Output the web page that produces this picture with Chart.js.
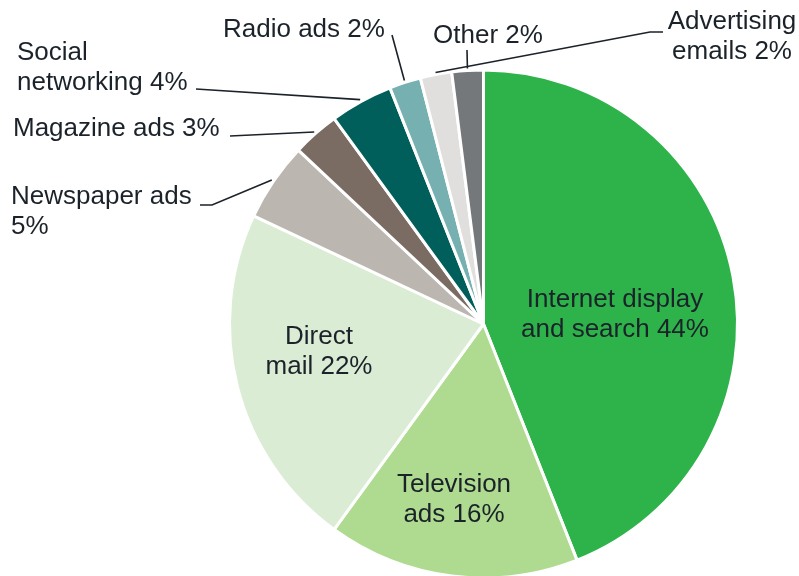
<!DOCTYPE html>
<html>
<head>
<meta charset="utf-8">
<script src="https://cdn.jsdelivr.net/npm/chart.js@4/dist/chart.umd.min.js"></script>
<style>
  html, body { margin: 0; padding: 0; background: #ffffff; overflow: hidden; }
  #wrap { width: 799px; height: 576px; overflow: hidden; }
</style>
</head>
<body>
<div id="wrap"><canvas id="c" width="799" height="648"></canvas></div>
<script>
// Share of spending by channel, clockwise from 12 o'clock
const categories = [
  "Internet display and search",
  "Television ads",
  "Direct mail",
  "Newspaper ads",
  "Magazine ads",
  "Social networking",
  "Radio ads",
  "Advertising emails",
  "Other"
];
const values = [44, 16, 22, 5, 3, 4, 2, 2, 2];
const sliceColors = [
  "#2eb34b", "#aedb8f", "#dbecd5", "#bcb6b1", "#7a6c62",
  "#005f5a", "#76b0b0", "#e1dfde", "#75787b"
];

// Label placement: anchor, first baseline, words on first line, leader points (label side)
const labelLayout = [
  { align: "center", x: 615, y: 307, wrap: 2, leader: null },
  { align: "center", x: 454, y: 492, wrap: 1, leader: null },
  { align: "center", x: 319, y: 344, wrap: 1, leader: null },
  { align: "left", x: 11, y: 204, wrap: 2, leader: [[200, 205], [212, 205]] },
  { align: "left", x: 13, y: 136, wrap: 0, leader: [[230, 136]] },
  { align: "left", x: 17, y: 60, wrap: 1, leader: [[196, 89]] },
  { align: "left", x: 223, y: 37, wrap: 0, leader: [[392, 35]] },
  { align: "center", x: 732, y: 29, wrap: 1, leader: [[663, 32], [650, 32]] },
  { align: "center", x: 488, y: 43, wrap: 0, leader: [[467, 50]] }
];

const LINE_H = 30;
const TEXT_COLOR = "#1b2229";

const sliceLabels = {
  id: "sliceLabels",
  afterDatasetsDraw(chart) {
    const ctx = chart.ctx;
    const meta = chart.getDatasetMeta(0);
    ctx.save();
    ctx.font = "26px 'Liberation Sans', Arial, sans-serif";
    ctx.fillStyle = TEXT_COLOR;
    ctx.textBaseline = "alphabetic";
    meta.data.forEach((arc, i) => {
      const L = labelLayout[i];
      const words = (categories[i] + " " + values[i] + "%").split(" ");
      const lines = L.wrap > 0
        ? [words.slice(0, L.wrap).join(" "), words.slice(L.wrap).join(" ")]
        : [words.join(" ")];
      ctx.textAlign = L.align;
      lines.forEach((t, k) => ctx.fillText(t, L.x, L.y + k * LINE_H));

      if (L.leader) {
        const p = arc.getProps(["x", "y", "startAngle", "endAngle", "outerRadius"], true);
        const mid = (p.startAngle + p.endAngle) / 2;
        const r = p.outerRadius + 2;
        const ex = p.x + Math.cos(mid) * r;
        const ey = p.y + Math.sin(mid) * r;
        ctx.beginPath();
        ctx.strokeStyle = "#1b2229";
        ctx.lineWidth = 1.6;
        ctx.moveTo(L.leader[0][0], L.leader[0][1]);
        for (let k = 1; k < L.leader.length; k++) ctx.lineTo(L.leader[k][0], L.leader[k][1]);
        ctx.lineTo(ex, ey);
        ctx.stroke();
      }
    });
    ctx.restore();
  }
};

new Chart(document.getElementById("c"), {
  type: "pie",
  data: {
    labels: categories,
    datasets: [{
      data: values,
      backgroundColor: sliceColors,
      borderColor: "#ffffff",
      borderWidth: 3
    }]
  },
  options: {
    responsive: false,
    animation: false,
    radius: 254,
    layout: { padding: { left: 168, right: 0, top: 0, bottom: 0 } },
    plugins: {
      legend: { display: false },
      tooltip: { enabled: false }
    }
  },
  plugins: [sliceLabels]
});
</script>
</body>
</html>
